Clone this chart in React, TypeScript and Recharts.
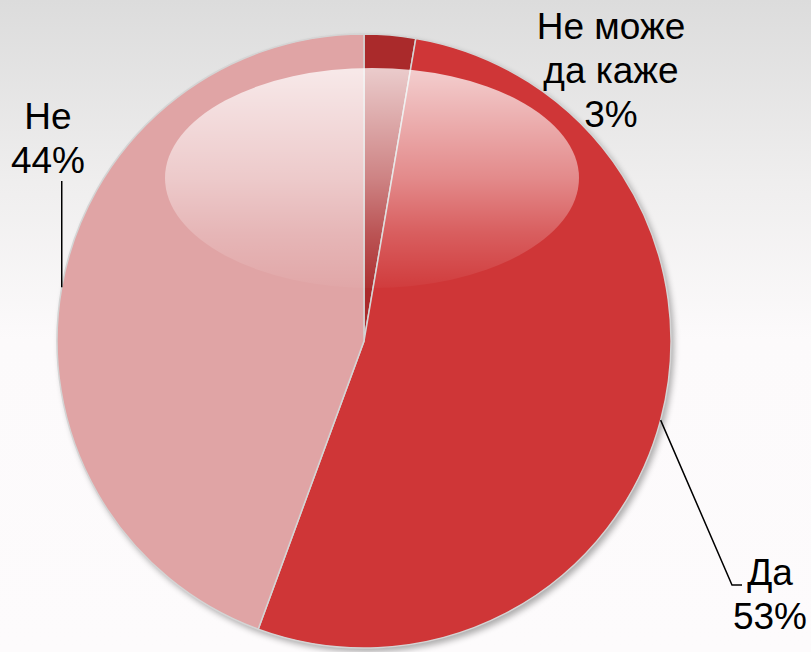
import { PieChart, Pie, Cell } from 'recharts';

// Slices in drawing order, clockwise from 12 o'clock.
const CATEGORIES = ['Не може да каже', 'Да', 'Не'];
const VALUES = [2.7, 52.9, 44.4];
const LABEL_LINES = [['Не може', 'да каже'], ['Да'], ['Не']];
const COLORS = ['#aa2a2b', '#cf3637', '#e0a4a5'];

const W = 811;
const H = 652;
const CX = 364;
const CY = 341;
const R = 307;
const FONT = '"Liberation Sans", Arial, sans-serif';
const FS = 37;
const LH = 44;

const data = CATEGORIES.map((name, i) => ({ name, value: VALUES[i] }));

const RAD = Math.PI / 180;

// label placement relative to the pie centre (Excel-style outside labels)
const LABEL_POS = [
  { x: 247, y: -302, leader: null },
  { x: 406, y: 244, leader: 'elbow' },
  { x: -316, y: -212, leader: 'up' },
];

function renderLabel(props: any) {
  const { cx, cy, midAngle, outerRadius, index, percent } = props;
  const pos = LABEL_POS[index];
  const lines = [...LABEL_LINES[index], `${Math.round(percent * 100)}%`];
  const tx = cx + pos.x;
  const ty = cy + pos.y;
  const ex = cx + outerRadius * Math.cos(-midAngle * RAD);
  const ey = cy + outerRadius * Math.sin(-midAngle * RAD);
  let leader = null;
  if (pos.leader === 'up') {
    leader = <polyline points={`${ex},${ey} ${ex},${ty + LH + 8}`} fill="none" stroke="#000" strokeWidth={1.5} />;
  } else if (pos.leader === 'elbow') {
    leader = (
      <polyline
        points={`${ex},${ey} ${tx - 38},${ty} ${tx - 28},${ty}`}
        fill="none"
        stroke="#000"
        strokeWidth={1.5}
      />
    );
  }
  return (
    <g key={`lbl-${index}`}>
      {leader}
      <text x={tx} y={ty} textAnchor="middle" fontFamily={FONT} fontSize={FS} fill="#000">
        {lines.map((l, i) => (
          <tspan key={i} x={tx} y={ty + i * LH}>
            {l}
          </tspan>
        ))}
      </text>
    </g>
  );
}

export default function App() {
  return (
    <div
      style={{
        position: 'relative',
        width: W,
        height: H,
        overflow: 'hidden',
        background: 'linear-gradient(to bottom, #dcdcdc 0%, #efeeee 28%, #fcfafb 52%, #fdfbfc 100%)',
      }}
    >
      <style>{'body{margin:0}'}</style>
      <div
        style={{
          position: 'absolute',
          left: CX - R,
          top: CY - R,
          width: R * 2,
          height: R * 2,
          borderRadius: '50%',
          boxShadow: '3px 4px 6px rgba(0,0,0,0.32)',
        }}
      />
      <div style={{ position: 'absolute', left: 0, top: 0 }}>
        <PieChart width={W} height={H} margin={{ top: 0, right: 0, bottom: 0, left: 0 }}>
          <Pie
            data={data}
            dataKey="value"
            nameKey="name"
            cx={CX}
            cy={CY}
            outerRadius={R}
            startAngle={90}
            endAngle={-270}
            stroke="#d4d4d4"
            strokeWidth={1.5}
            label={renderLabel}
            labelLine={false}
            isAnimationActive={false}
          >
            {data.map((d, i) => (
              <Cell key={d.name} fill={COLORS[i]} />
            ))}
          </Pie>
        </PieChart>
      </div>
      {/* glossy highlight */}
      <svg
        width={W}
        height={H}
        style={{ position: 'absolute', left: 0, top: 0, pointerEvents: 'none' }}
      >
        <defs>
          <linearGradient id="gloss" x1="0" y1="0" x2="0" y2="1">
            <stop offset="0%" stopColor="#fff" stopOpacity={0.76} />
            <stop offset="50%" stopColor="#fff" stopOpacity={0.42} />
            <stop offset="75%" stopColor="#fff" stopOpacity={0.2} />
            <stop offset="100%" stopColor="#fff" stopOpacity={0.03} />
          </linearGradient>
        </defs>
        <ellipse cx={CX + 8} cy={CY - 163} rx={207} ry={110} fill="url(#gloss)" />
      </svg>
    </div>
  );
}
